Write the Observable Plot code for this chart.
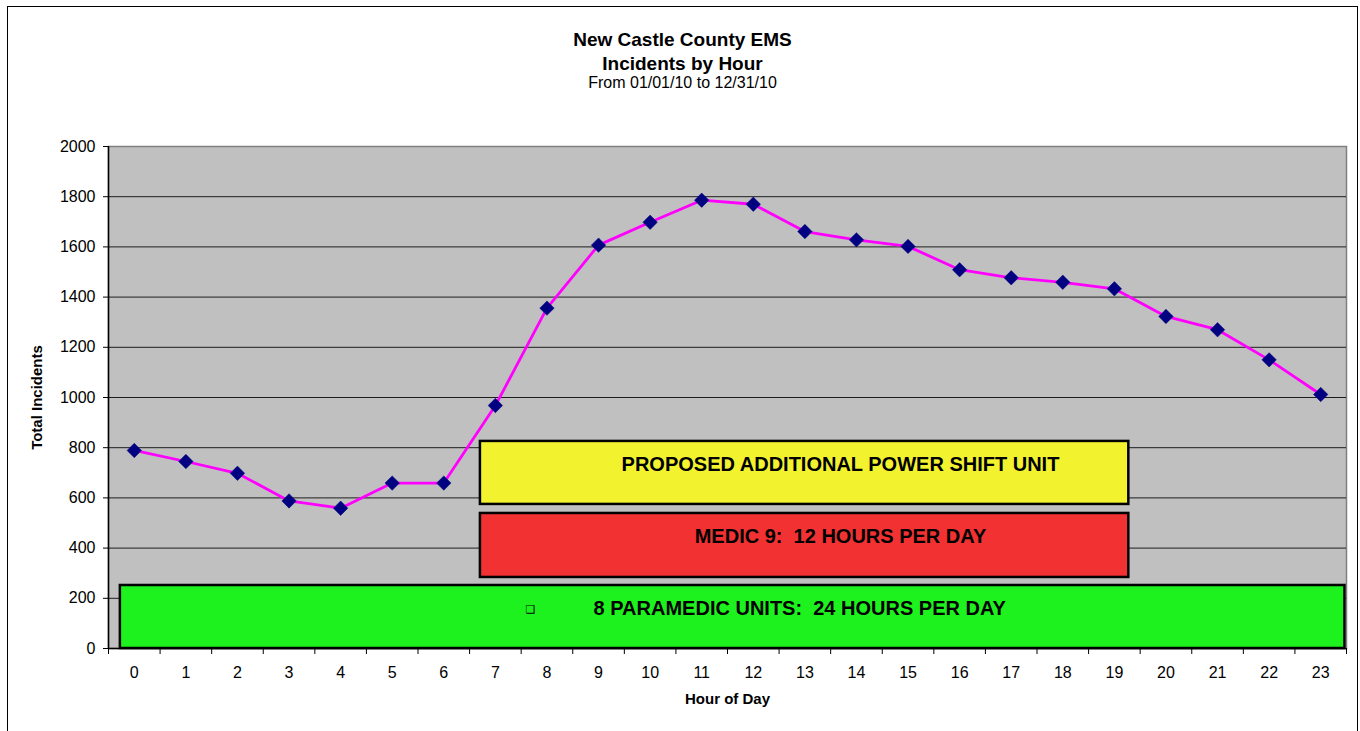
<!DOCTYPE html>
<html>
<head>
<meta charset="utf-8">
<script src="https://cdn.jsdelivr.net/npm/d3@7"></script>
<script src="https://cdn.jsdelivr.net/npm/@observablehq/plot@0.6"></script>
<style>
  html, body { margin: 0; padding: 0; background: #fff; }
  #wrap { position: relative; width: 1360px; height: 731px; overflow: hidden; font-family: "Liberation Sans", Arial, sans-serif; color: #000; }
  #border { position: absolute; left: 7px; top: 6px; width: 1351px; height: 760px; border: 1px solid #000; box-sizing: border-box; }
  .t { position: absolute; left: 7px; width: 1351px; text-align: center; white-space: nowrap; }
  #t1 { top: 28px; font-size: 19px; line-height: 24px; font-weight: bold; }
  #t2 { top: 52px; font-size: 19px; line-height: 24px; font-weight: bold; }
  #t3 { top: 74px; font-size: 16px; line-height: 18px; }
  #chart { position: absolute; left: 0; top: 100px; }
</style>
</head>
<body>
<div id="wrap">
  <div id="border"></div>
  <div class="t" id="t1">New Castle County EMS</div>
  <div class="t" id="t2">Incidents by Hour</div>
  <div class="t" id="t3">From 01/01/10 to 12/31/10</div>
  <div id="chart"></div>
</div>
<script>
// ---- data ----
const hours = [0,1,2,3,4,5,6,7,8,9,10,11,12,13,14,15,16,17,18,19,20,21,22,23];
const incidents = [789,745,698,588,559,659,659,968,1356,1607,1698,1786,1770,1661,1628,1602,1509,1477,1459,1433,1323,1270,1150,1012];
const yTicks = [0,200,400,600,800,1000,1200,1400,1600,1800,2000];

// coverage boxes (hour span and incident-level span)
const boxLabels = ["8 PARAMEDIC UNITS:  24 HOURS PER DAY", "MEDIC 9:  12 HOURS PER DAY", "PROPOSED ADDITIONAL POWER SHIFT UNIT"];
const boxStart = [-0.27, 6.71, 6.71];
const boxEnd = [23.47, 19.28, 19.28];
const boxLow = [0, 283, 574];
const boxHigh = [251, 538, 825];
const boxColors = ["#1ef21e", "#f23232", "#f2f22e"];
const boxTextHour = [12.9, 13.69, 13.69];
const boxTextLevel = [159, 446, 733];
const bulletHour = [7.68];
const bulletLevel = [155];

// ---- tables ----
const data = hours.map((h, i) => ({hour: h, value: incidents[i]}));
const boxes = boxLabels.map((l, i) => ({
  label: l, x1: boxStart[i], x2: boxEnd[i], y1: boxLow[i], y2: boxHigh[i],
  fill: boxColors[i], tx: boxTextHour[i], ty: boxTextLevel[i]
}));
const bullets = bulletHour.map((h, i) => ({x: h, y: bulletLevel[i]}));
const boundaries = hours.map(h => h - 0.5).concat([hours[hours.length - 1] + 0.5]);
const gridVals = yTicks.filter(v => v > 0 && v < 2000);

const chart = Plot.plot({
  width: 1360,
  height: 631,
  marginTop: 46,
  marginBottom: 83,
  marginLeft: 108,
  marginRight: 14,
  x: {domain: [-0.5, 23.5]},
  y: {domain: [0, 2000]},
  style: {fontFamily: "'Liberation Sans', Arial, sans-serif", fontSize: "16px", color: "#000", background: "transparent"},
  marks: [
    Plot.frame({fill: "#c0c0c0", stroke: "#808080", strokeWidth: 1.5}),
    Plot.ruleY(gridVals, {stroke: "#000", strokeWidth: 1, strokeOpacity: 0.85}),
    Plot.rect(boxes, {x1: "x1", x2: "x2", y1: "y1", y2: "y2", fill: "fill", stroke: "#000", strokeWidth: 2.5}),
    Plot.text(boxes, {x: "tx", y: "ty", text: "label", fontWeight: "bold", fontSize: 20, fill: "#000"}),
    Plot.text(bullets, {x: "x", y: "y", text: () => "❑", fontSize: 11, fontFamily: "DejaVu Sans", fill: "#000"}),
    Plot.line(data, {x: "hour", y: "value", stroke: "#ff00ff", strokeWidth: 2.8}),
    Plot.dot(data, {x: "hour", y: "value", symbol: "diamond2", r: 6.5, fill: "#000080", stroke: "#000080", strokeWidth: 0.5}),
    Plot.ruleY([0], {stroke: "#000", strokeWidth: 1.5}),
    Plot.ruleX([-0.5], {stroke: "#000", strokeWidth: 1.5}),
    Plot.axisY({ticks: yTicks, tickSize: 5, tickPadding: 8, tickFormat: d => String(d), label: null, fontSize: 16}),
    Plot.axisX({ticks: boundaries, tickSize: 6, tickFormat: () => "", label: null}),
    Plot.axisX({ticks: hours, tickSize: 0, tickPadding: 18, tickFormat: d => String(d), label: null, fontSize: 16}),
    Plot.text(["Total Incidents"], {frameAnchor: "left", dx: -71, rotate: -90, textAnchor: "middle", fontWeight: "bold", fontSize: 15, fill: "#000"}),
    Plot.text(["Hour of Day"], {frameAnchor: "bottom", dy: 55, textAnchor: "middle", fontWeight: "bold", fontSize: 15, fill: "#000"})
  ]
});
document.getElementById("chart").appendChild(chart);
</script>
</body>
</html>
